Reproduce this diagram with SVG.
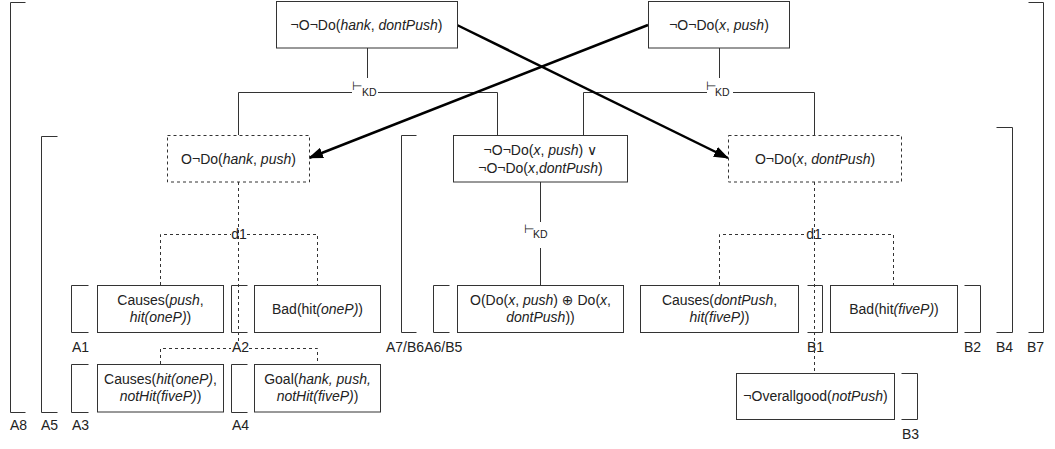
<svg xmlns="http://www.w3.org/2000/svg" width="1055" height="449" viewBox="0 0 1055 449">
  <style>
    .box { fill: #ffffff; stroke: #333333; stroke-width: 1; }
    .dbox { fill: #ffffff; stroke: #333333; stroke-width: 1; stroke-dasharray: 3 3; }
    .ln { fill: none; stroke: #333333; stroke-width: 1; }
    .dl { fill: none; stroke: #333333; stroke-width: 1; stroke-dasharray: 3 3; }
    .br { fill: none; stroke: #333333; stroke-width: 1; }
    .arr { fill: none; stroke: #000000; stroke-width: 2.5; }
    text { font-family: "Liberation Sans", Arial, "DejaVu Sans", sans-serif; font-size: 14px; fill: #222222; }
    .c { text-anchor: middle; }
    .i { font-style: italic; }
    .sub { font-size: 10.5px; }
    .turn { font-family: "DejaVu Sans", sans-serif; font-size: 12px; }
  </style>
  <defs>
    <marker id="head" markerWidth="15" markerHeight="11" refX="14" refY="5.5" orient="auto" markerUnits="userSpaceOnUse">
      <path d="M0,0 L15,5.5 L0,11 Z" fill="#000000"/>
    </marker>
  </defs>

  <rect width="1055" height="449" fill="#ffffff"/>

  <!-- brackets grouping arguments -->
  <g id="brackets">
    <path class="br" d="M25.5,2.5 H10.5 V412.5 H25.5"/>
    <path class="br" d="M57.5,136.5 H41.5 V412.5 H57.5"/>
    <path class="br" d="M88.5,285.5 H71.5 V332.5 H88.5"/>
    <path class="br" d="M88.5,364.5 H71.5 V412.5 H88.5"/>
    <path class="br" d="M247.5,285.5 H231.5 V332.5 H247.5"/>
    <path class="br" d="M247.5,364.5 H231.5 V412.5 H247.5"/>
    <path class="br" d="M416.5,135.5 H401.5 V332.5 H416.5"/>
    <path class="br" d="M449.5,285.5 H433.5 V332.5 H449.5"/>
    <path class="br" d="M807.5,285.5 H822.5 V332.5 H807.5"/>
    <path class="br" d="M964.5,285.5 H980.5 V332.5 H964.5"/>
    <path class="br" d="M996.5,127.5 H1012.5 V332.5 H996.5"/>
    <path class="br" d="M1028.5,2.5 H1043.5 V332.5 H1028.5"/>
    <path class="br" d="M901.5,373.5 H917.5 V419.5 H901.5"/>
    <text x="10" y="430">A8</text>
    <text x="41" y="430">A5</text>
    <text x="72" y="430">A3</text>
    <text x="232" y="430">A4</text>
    <text x="72" y="352">A1</text>
    <text x="232" y="352">A2</text>
    <text x="386" y="352">A7/B6A6/B5</text>
    <text x="807" y="352">B1</text>
    <text x="964" y="352">B2</text>
    <text x="996" y="352">B4</text>
    <text x="1027" y="352">B7</text>
    <text x="902" y="439">B3</text>
  </g>

  <!-- connectors -->
  <g id="connectors">
    <!-- KD inference from the first premise -->
    <path class="ln" d="M367.5,48 V78"/>
    <path class="ln" d="M238.5,135 V92.5 H352"/>
    <path class="ln" d="M378,92.5 H497.5 V135"/>
    <text class="turn" x="352" y="90">⊢</text>
    <text class="sub" x="362" y="96">KD</text>
    <!-- KD inference from the second premise -->
    <path class="ln" d="M719.5,48 V78"/>
    <path class="ln" d="M583.5,135 V92.5 H707"/>
    <path class="ln" d="M733,92.5 H814.5 V135"/>
    <text class="turn" x="706" y="90">⊢</text>
    <text class="sub" x="715" y="96">KD</text>
    <!-- KD inference in the middle -->
    <path class="ln" d="M540.5,182 V222"/>
    <path class="ln" d="M540.5,248 V285"/>
    <text class="turn" x="524" y="233">⊢</text>
    <text class="sub" x="533" y="238">KD</text>

    <!-- left d1 split -->
    <path class="dl" d="M238.5,182 V343"/>
    <path class="dl" d="M160.5,285 V234.5 H231"/>
    <path class="dl" d="M247,234.5 H317.5 V285"/>
    <text class="c" x="239" y="239">d1</text>
    <!-- A2 split -->
    <path class="dl" d="M160.5,364 V348.5 H231"/>
    <path class="dl" d="M249,348.5 H317.5 V364"/>

    <!-- right d1 split -->
    <path class="dl" d="M814.5,182 V373"/>
    <path class="dl" d="M719.5,285 V234.5 H807"/>
    <path class="dl" d="M822,234.5 H893.5 V285"/>
    <text class="c" x="814" y="239">d1</text>

    <!-- crossing arrows -->
    <path class="arr" d="M457,25 L728,158" marker-end="url(#head)"/>
    <path class="arr" d="M648,25 L309,158" marker-end="url(#head)"/>
  </g>

  <g id="n-top-left">
    <rect class="box" x="276.5" y="1.5" width="181" height="46.5"/>
    <text class="c" x="366.5" y="30">¬O¬Do(<tspan class="i">hank</tspan>, <tspan class="i">dontPush</tspan>)</text>
  </g>
  <g id="n-top-right">
    <rect class="box" x="648.5" y="1.5" width="141" height="46.5"/>
    <text class="c" x="719" y="30">¬O¬Do(<tspan class="i">x</tspan>, <tspan class="i">push</tspan>)</text>
  </g>
  <g id="n-ob-hank-push">
    <rect class="dbox" x="167.5" y="135.5" width="142" height="46.5"/>
    <text class="c" x="238.5" y="164">O¬Do(<tspan class="i">hank</tspan>, <tspan class="i">push</tspan>)</text>
  </g>
  <g id="n-disjunction">
    <rect class="box" x="453.5" y="135.5" width="174" height="46.5"/>
    <text class="c" x="540.5" y="155">¬O¬Do(<tspan class="i">x</tspan>, <tspan class="i">push</tspan>) ∨</text>
    <text class="c" x="540.5" y="173">¬O¬Do(<tspan class="i">x</tspan>,<tspan class="i">dontPush</tspan>)</text>
  </g>
  <g id="n-ob-x-dontpush">
    <rect class="dbox" x="728.5" y="135.5" width="173" height="46.5"/>
    <text class="c" x="815" y="164">O¬Do(<tspan class="i">x</tspan>, <tspan class="i">dontPush</tspan>)</text>
  </g>
  <g id="n-causes-push">
    <rect class="box" x="97.5" y="285.5" width="126" height="47"/>
    <text class="c" x="160.5" y="305">Causes(<tspan class="i">push</tspan>,</text>
    <text class="c i" x="160.5" y="322">hit(oneP)<tspan style="font-style:normal">)</tspan></text>
  </g>
  <g id="n-bad-onep">
    <rect class="box" x="254.5" y="285.5" width="126" height="47"/>
    <text class="c" x="317.5" y="314">Bad(hit<tspan class="i">(oneP)</tspan>)</text>
  </g>
  <g id="n-causes-hit">
    <rect class="box" x="97.5" y="364.5" width="126" height="47.5"/>
    <text class="c" x="160.5" y="384">Causes(<tspan class="i">hit(oneP)</tspan>,</text>
    <text class="c" x="160.5" y="401"><tspan class="i">notHit(fiveP)</tspan>)</text>
  </g>
  <g id="n-goal">
    <rect class="box" x="254.5" y="364.5" width="126" height="47.5"/>
    <text class="c" x="317.5" y="384">Goal(<tspan class="i">hank, push,</tspan></text>
    <text class="c" x="317.5" y="401"><tspan class="i">notHit(fiveP)</tspan>)</text>
  </g>
  <g id="n-xor">
    <rect class="box" x="457.5" y="285.5" width="166" height="47"/>
    <text class="c" x="540.5" y="305">O(Do(<tspan class="i">x</tspan>, <tspan class="i">push</tspan>) ⊕ Do(<tspan class="i">x</tspan>,</text>
    <text class="c" x="540.5" y="322"><tspan class="i">dontPush</tspan>))</text>
  </g>
  <g id="n-causes-dontpush">
    <rect class="box" x="640.5" y="285.5" width="158" height="47"/>
    <text class="c" x="719.5" y="305">Causes(<tspan class="i">dontPush</tspan>,</text>
    <text class="c" x="719.5" y="322"><tspan class="i">hit(fiveP)</tspan>)</text>
  </g>
  <g id="n-bad-fivep">
    <rect class="box" x="830.5" y="285.5" width="127" height="47"/>
    <text class="c" x="894" y="314">Bad(hit<tspan class="i">(fiveP)</tspan>)</text>
  </g>
  <g id="n-overallgood">
    <rect class="box" x="736.5" y="373.5" width="158" height="46"/>
    <text class="c" x="815.5" y="401">¬Overallgood(<tspan class="i">notPush</tspan>)</text>
  </g>
</svg>
